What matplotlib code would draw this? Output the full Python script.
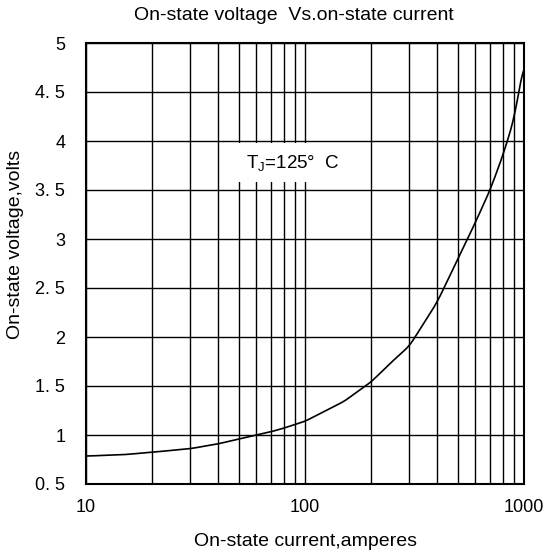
import matplotlib
matplotlib.use("Agg")
import matplotlib.pyplot as plt
from matplotlib.ticker import FixedLocator, NullFormatter
import numpy as np

plt.rcParams['font.family'] = ['Liberation Sans', 'DejaVu Sans']
plt.rcParams['mathtext.default'] = 'regular'

# on-state current (A) and on-state voltage (V)
current = [10, 15, 20, 30, 40, 50, 60, 70, 80, 100, 150, 200, 250, 300,
           400, 500, 600, 700, 800, 900, 1000]
voltage = [0.785, 0.80, 0.824, 0.861, 0.909, 0.96, 1.0, 1.033, 1.07, 1.14,
           1.34, 1.54, 1.75, 1.91, 2.35, 2.8, 3.17, 3.5, 3.85, 4.22, 4.8]

x_ticks = [10, 100, 1000]
x_tick_labels = ['10', '100', '1000']
y_ticks = [0.5, 1, 1.5, 2, 2.5, 3, 3.5, 4, 4.5, 5]
y_tick_labels = ['0. 5', '1', '1. 5', '2', '2. 5', '3', '3. 5', '4', '4. 5', '5']

fig = plt.figure(figsize=(5.44, 5.56), dpi=100)
ax = fig.add_axes([86 / 544, 1 - 484 / 556, (524 - 86) / 544, (484 - 43) / 556])

# smooth the curve in log-x
lx = np.log10(current)
xs = np.linspace(lx[0], lx[-1], 400)
ys = np.interp(xs, lx, voltage)
k = np.ones(9) / 9
ys_s = np.convolve(np.pad(ys, 4, mode='edge'), k, mode='valid')
ax.plot(10 ** xs, ys_s, color='black', lw=1.2, zorder=3)

ax.set_xscale('log')
ax.set_xlim(10, 1000)
ax.set_ylim(0.5, 5)

minor = [m * d for d in (10, 100) for m in range(2, 10)]
ax.xaxis.set_major_locator(FixedLocator(x_ticks))
ax.xaxis.set_minor_locator(FixedLocator(minor))
ax.xaxis.set_minor_formatter(NullFormatter())
ax.set_xticklabels(x_tick_labels)
ax.set_yticks(y_ticks)
ax.set_yticklabels(y_tick_labels)

ax.grid(True, which='both', color='black', lw=1.0)
ax.tick_params(which='both', length=0, labelsize=13)
ax.tick_params(axis='x', pad=11)
ax.tick_params(axis='y', pad=15)
for s in ax.spines.values():
    s.set_linewidth(1.5)

ax.text(88, 3.78, 'T$_J$=125°  C', fontsize=13.5, ha='center', va='center',
        zorder=4, bbox=dict(facecolor='white', edgecolor='none', pad=7))

fig.text(294 / 544, 1 - 15 / 556, 'On-state voltage  Vs.on-state current',
         fontsize=14, ha='center', va='center')
fig.text(305 / 544, 1 - 541 / 556, 'On-state current,amperes',
         fontsize=14, ha='center', va='center')
fig.text(16 / 544, 1 - 244 / 556, 'On-state voltage,volts',
         fontsize=14, ha='center', va='center', rotation=90)

fig.savefig('out.png', dpi=100)
